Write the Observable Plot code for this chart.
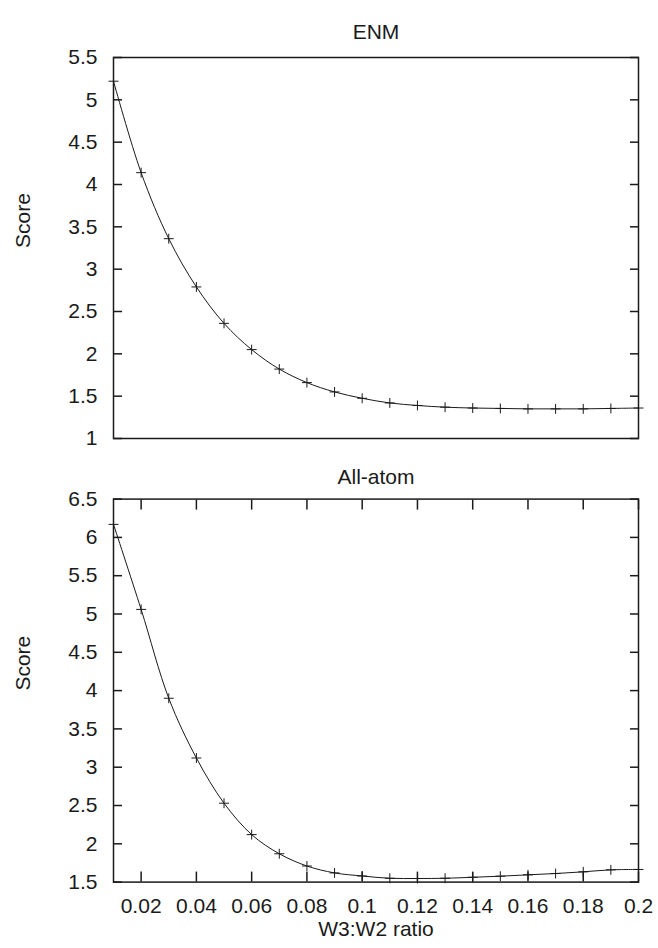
<!DOCTYPE html>
<html>
<head>
<meta charset="utf-8">
<script src="https://cdn.jsdelivr.net/npm/d3@7"></script>
<script src="https://cdn.jsdelivr.net/npm/@observablehq/plot@0.6"></script>
<style>
  html, body { margin: 0; padding: 0; background: #fff; }
  #chart { position: relative; width: 658px; height: 948px; overflow: hidden; }
  #chart svg { position: absolute; left: 0; }
</style>
</head>
<body>
<div id="chart"></div>
<script>
// ---- data ----
const ratios = [0.01, 0.02, 0.03, 0.04, 0.05, 0.06, 0.07, 0.08, 0.09, 0.10,
                0.11, 0.12, 0.13, 0.14, 0.15, 0.16, 0.17, 0.18, 0.19, 0.20];
const enmScores = [5.22, 4.14, 3.36, 2.79, 2.36, 2.05, 1.82, 1.66, 1.55, 1.475,
                   1.42, 1.39, 1.37, 1.36, 1.355, 1.35, 1.35, 1.35, 1.355, 1.36];
const allAtomScores = [6.17, 5.06, 3.90, 3.12, 2.53, 2.12, 1.87, 1.71, 1.62, 1.58,
                       1.55, 1.547, 1.55, 1.563, 1.577, 1.595, 1.612, 1.634, 1.66, 1.665];
const xTicks = [0.02, 0.04, 0.06, 0.08, 0.10, 0.12, 0.14, 0.16, 0.18, 0.20];
const enmYTicks = [1, 1.5, 2, 2.5, 3, 3.5, 4, 4.5, 5, 5.5];
const allAtomYTicks = [1.5, 2, 2.5, 3, 3.5, 4, 4.5, 5, 5.5, 6, 6.5];
const panelTitles = ["ENM", "All-atom"];
const yLabel = "Score";
const xLabel = "W3:W2 ratio";

const ink = "#1a1a1a";
const font = "'Liberation Sans', Arial, Helvetica, sans-serif";
const fs = 21;
const fmtNum = d => String(+d.toFixed(2));

function panel({title, scores, yDomain, yTicks, height, marginTop, marginBottom, titleDy, showX}) {
  const data = ratios.map((r, i) => ({r, s: scores[i]}));
  const marks = [
    Plot.frame({stroke: ink, strokeWidth: 1.5}),
    Plot.axisY(yTicks, {anchor: "left", tickSize: -9, tickPadding: 25, tickFormat: fmtNum,
                        fontSize: fs, strokeWidth: 1.5, label: null}),
    Plot.axisY(yTicks, {anchor: "right", tickSize: -9, tickFormat: () => "",
                        strokeWidth: 1.5, label: null}),
    Plot.line(data, {x: "r", y: "s", curve: "catmull-rom", stroke: ink, strokeWidth: 1}),
    Plot.dot(data, {x: "r", y: "s", symbol: "plus", r: 3.3, stroke: ink, strokeWidth: 1}),
    Plot.text([title], {text: d => d, frameAnchor: "top", dy: titleDy, fontSize: fs, fill: ink}),
    Plot.text([yLabel], {text: d => d, frameAnchor: "left", dx: -90, rotate: -90, fontSize: fs, fill: ink})
  ];
  if (showX) {
    marks.push(
      Plot.axisX(xTicks, {anchor: "bottom", tickSize: -10, tickPadding: 26, tickFormat: fmtNum,
                          fontSize: fs, strokeWidth: 1.5, label: null}),
      Plot.axisX(xTicks, {anchor: "top", tickSize: -10, tickFormat: () => "",
                          strokeWidth: 1.5, label: null}),
      Plot.text([xLabel], {text: d => d, frameAnchor: "bottom", dy: 54, fontSize: fs, fill: ink})
    );
  }
  return Plot.plot({
    width: 658,
    height,
    marginLeft: 113,
    marginRight: 20,
    marginTop,
    marginBottom,
    style: {fontFamily: font, fontSize: fs + "px", color: ink, background: "#fff", overflow: "visible"},
    x: {domain: [0.01, 0.2], axis: showX ? undefined : null},
    y: {domain: yDomain},
    marks
  });
}

const chart = document.getElementById("chart");
const topPanel = panel({title: panelTitles[0], scores: enmScores, yDomain: [1, 5.5], yTicks: enmYTicks,
                   height: 460, marginTop: 57, marginBottom: 22, titleDy: -33, showX: false});
topPanel.style.top = "0px";
chart.appendChild(topPanel);
const bottomPanel = panel({title: panelTitles[1], scores: allAtomScores, yDomain: [1.5, 6.5], yTicks: allAtomYTicks,
                      height: 488, marginTop: 38.6, marginBottom: 66.4, titleDy: -30.5, showX: true});
bottomPanel.style.top = "460px";
chart.appendChild(bottomPanel);
</script>
</body>
</html>
